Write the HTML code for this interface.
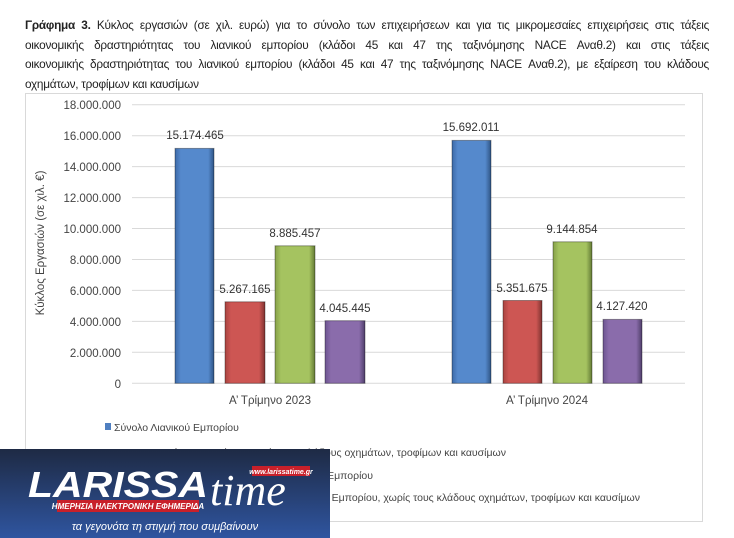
<!DOCTYPE html>
<html><head><meta charset="utf-8"><style>
body{margin:0;width:734px;height:538px;background:#fff;overflow:hidden;font-family:"Liberation Sans","DejaVu Sans",sans-serif}
.t{position:absolute;left:25px;top:16px;width:684px;font-size:11.8px;letter-spacing:-0.25px;line-height:19.5px;color:#222;font-family:"Liberation Sans Narrow","Liberation Sans",sans-serif}
.t div{white-space:nowrap;text-align:justify;text-align-last:justify;overflow:hidden}
.t div.l{text-align-last:left}
</style></head><body>
<div class="t">
<div><b>Γράφημα 3.</b> Κύκλος εργασιών (σε χιλ. ευρώ) για το σύνολο των επιχειρήσεων και για τις μικρομεσαίες επιχειρήσεις στις τάξεις</div>
<div>οικονομικής δραστηριότητας του λιανικού εμπορίου (κλάδοι 45 και 47 της ταξινόμησης NACE Αναθ.2) και στις τάξεις</div>
<div>οικονομικής δραστηριότητας του λιανικού εμπορίου (κλάδοι 45 και 47 της ταξινόμησης NACE Αναθ.2), με εξαίρεση του κλάδους</div>
<div class="l">οχημάτων, τροφίμων και καυσίμων</div>
</div>
<svg width="734" height="538" style="position:absolute;left:0;top:0" font-family="Liberation Sans, sans-serif">
<defs>
<linearGradient id="bl" x1="0" x2="1"><stop offset="0" stop-color="#3d6aa8"/><stop offset=".15" stop-color="#5589cc"/><stop offset=".85" stop-color="#5589cc"/><stop offset="1" stop-color="#2f5485"/></linearGradient>
<linearGradient id="rd" x1="0" x2="1"><stop offset="0" stop-color="#a84440"/><stop offset=".15" stop-color="#cd5653"/><stop offset=".85" stop-color="#cd5653"/><stop offset="1" stop-color="#7e3230"/></linearGradient>
<linearGradient id="gr" x1="0" x2="1"><stop offset="0" stop-color="#86a049"/><stop offset=".15" stop-color="#a5c360"/><stop offset=".85" stop-color="#a5c360"/><stop offset="1" stop-color="#637a35"/></linearGradient>
<linearGradient id="pu" x1="0" x2="1"><stop offset="0" stop-color="#6c5590"/><stop offset=".15" stop-color="#8a6cab"/><stop offset=".85" stop-color="#8a6cab"/><stop offset="1" stop-color="#4e3e69"/></linearGradient>
<linearGradient id="lg" x1="0" y1="0" x2="0" y2="1"><stop offset="0" stop-color="#1e2a44"/><stop offset="1" stop-color="#2f55a0"/></linearGradient>
</defs>
<rect x="25.5" y="93.5" width="677" height="428" fill="#fff" stroke="#d9d9d9"/>
<g stroke="#d9d9d9" stroke-width="1">
<line x1="132" x2="685" y1="104.7" y2="104.7"/><line x1="132" x2="685" y1="135.7" y2="135.7"/><line x1="132" x2="685" y1="166.6" y2="166.6"/><line x1="132" x2="685" y1="197.6" y2="197.6"/><line x1="132" x2="685" y1="228.5" y2="228.5"/><line x1="132" x2="685" y1="259.5" y2="259.5"/><line x1="132" x2="685" y1="290.4" y2="290.4"/><line x1="132" x2="685" y1="321.4" y2="321.4"/><line x1="132" x2="685" y1="352.3" y2="352.3"/><line x1="132" x2="685" y1="383.3" y2="383.3"/>
</g>
<g font-size="11.5" fill="#444" text-anchor="end">
<text x="121" y="109">18.000.000</text><text x="121" y="140">16.000.000</text><text x="121" y="171">14.000.000</text><text x="121" y="202">12.000.000</text><text x="121" y="233">10.000.000</text><text x="121" y="264">8.000.000</text><text x="121" y="295">6.000.000</text><text x="121" y="326">4.000.000</text><text x="121" y="357">2.000.000</text><text x="121" y="388">0</text>
</g>
<text transform="translate(44,243) rotate(-90)" font-size="11.5" fill="#444" text-anchor="middle">Κύκλος Εργασιών (σε χιλ. €)</text>
<g stroke="rgba(0,0,0,0.35)" stroke-width="1">
<rect x="175" y="148.4" width="39" height="234.9" fill="url(#bl)"/>
<rect x="225" y="301.8" width="40" height="81.5" fill="url(#rd)"/>
<rect x="275" y="245.8" width="40" height="137.5" fill="url(#gr)"/>
<rect x="325" y="320.7" width="40" height="62.6" fill="url(#pu)"/>
<rect x="452" y="140.4" width="39" height="242.9" fill="url(#bl)"/>
<rect x="503" y="300.5" width="39" height="82.8" fill="url(#rd)"/>
<rect x="553" y="241.8" width="39" height="141.5" fill="url(#gr)"/>
<rect x="603" y="319.4" width="39" height="63.9" fill="url(#pu)"/>
</g>
<g font-size="11.5" fill="#333" text-anchor="middle">
<text x="195" y="139">15.174.465</text><text x="245" y="293">5.267.165</text><text x="295" y="237">8.885.457</text><text x="345" y="312">4.045.445</text>
<text x="471" y="131">15.692.011</text><text x="522" y="292">5.351.675</text><text x="572" y="233">9.144.854</text><text x="622" y="310">4.127.420</text>
<text x="270" y="404" fill="#444">Α’ Τρίμηνο 2023</text><text x="547" y="404" fill="#444">Α’ Τρίμηνο 2024</text>
</g>
<g font-size="10.5" fill="#444">
<rect x="105" y="423" width="6" height="7" fill="#4f7fc0"/><text x="114" y="431">Σύνολο Λιανικού Εμπορίου</text>
<text x="506" y="456" text-anchor="end">Μικρομεσαίες επιχειρήσεις χωρίς τους κλάδους οχημάτων, τροφίμων και καυσίμων</text>
<text x="373" y="479" text-anchor="end">Μικρομεσαίες επιχειρήσεις Λιανικού Εμπορίου</text>
<text x="640" y="501" text-anchor="end">Μικρομεσαίες επιχειρήσεις Λιανικού Εμπορίου, χωρίς τους κλάδους οχημάτων, τροφίμων και καυσίμων</text>
</g>
<rect x="0" y="449" width="330" height="89" fill="url(#lg)"/>
<text x="28" y="497" font-size="36" font-weight="bold" font-style="italic" fill="#fff" textLength="180" lengthAdjust="spacingAndGlyphs">LARISSA</text>
<text x="210" y="505" font-size="44" font-style="italic" fill="#fff" font-family="Liberation Serif, serif">time</text>
<rect x="252" y="466" width="58" height="10" fill="#c8202a"/><text x="281" y="474" font-size="7" fill="#fff" font-weight="bold" font-style="italic" text-anchor="middle">www.larissatime.gr</text>
<rect x="57" y="500" width="142" height="12" fill="#c8202a"/><text x="128" y="509" font-size="8" fill="#fff" font-weight="bold" font-style="italic" text-anchor="middle">ΗΜΕΡΗΣΙΑ ΗΛΕΚΤΡΟΝΙΚΗ ΕΦΗΜΕΡΙΔΑ</text>
<text x="165" y="530" font-size="11" fill="#fff" font-style="italic" text-anchor="middle">τα γεγονότα τη στιγμή που συμβαίνουν</text>
</svg>
</body></html>
